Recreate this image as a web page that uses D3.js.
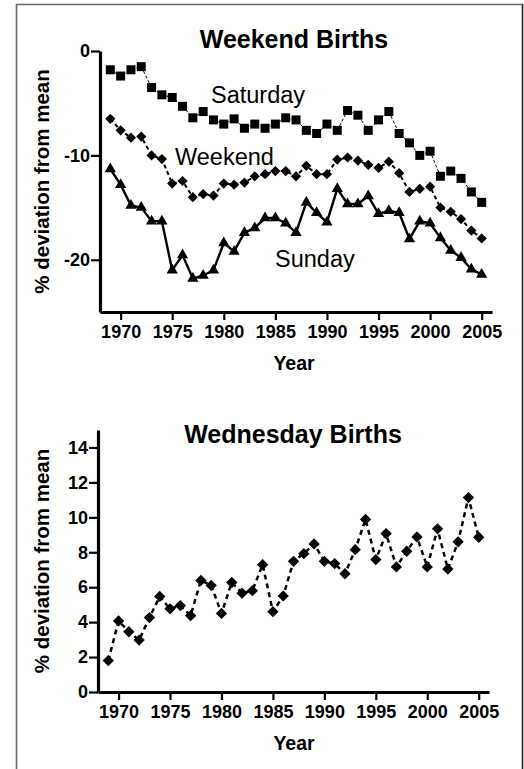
<!DOCTYPE html>
<html>
<head>
<meta charset="utf-8">
<script src="https://cdn.jsdelivr.net/npm/d3@7"></script>
<style>
  body { margin: 0; background: #fff; }
  text { font-family: "Liberation Sans", Arial, sans-serif; fill: #000; }
</style>
</head>
<body>
<script>
// Data
const years = d3.range(1969, 2006);
const saturday = [-1.8, -2.4, -1.8, -1.5, -3.5, -4.2, -4.45, -5.3, -6.4, -5.8,
  -6.6, -7.0, -6.5, -7.4, -7.0, -7.4, -7.0, -6.4, -6.6, -7.6,
  -7.9, -7.0, -7.6, -5.7, -6.15, -7.6, -6.6, -5.8, -7.9, -8.8,
  -10.0, -9.6, -12.0, -11.5, -12.2, -13.5, -14.5];
const weekend = [-6.5, -7.6, -8.3, -8.2, -10.0, -10.35, -12.7, -12.45, -14.0, -13.7,
  -13.85, -12.7, -12.8, -12.6, -12.0, -11.8, -11.5, -11.5, -12.0, -11.0,
  -11.8, -11.8, -10.4, -10.2, -10.5, -10.9, -11.2, -10.6, -11.7, -13.5,
  -13.2, -13.0, -15.0, -15.4, -16.1, -17.2, -17.95];
const sunday = [-11.3, -12.8, -14.8, -15.0, -16.3, -16.3, -21.0, -19.55, -21.8, -21.5,
  -21.0, -18.4, -19.2, -17.4, -16.95, -16.0, -16.0, -16.5, -17.4, -14.5,
  -15.5, -16.4, -13.2, -14.65, -14.65, -13.9, -15.6, -15.3, -15.5, -18.0,
  -16.3, -16.5, -17.9, -19.1, -19.8, -20.9, -21.4];
const wednesday = [1.8, 4.07, 3.45, 2.97, 4.26, 5.47, 4.76, 4.95, 4.37, 6.39,
  6.1, 4.5, 6.27, 5.66, 5.8, 7.29, 4.6, 5.5, 7.48, 7.92,
  8.48, 7.48, 7.35, 6.77, 8.15, 9.88, 7.58, 9.07, 7.16, 8.06,
  8.88, 7.16, 9.34, 7.04, 8.6, 11.13, 8.86];
const xTicks = [1970, 1975, 1980, 1985, 1990, 1995, 2000, 2005];
const topTicks = [0, -10, -20];
const bottomTicks = [0, 2, 4, 6, 8, 10, 12, 14];

const W = 524, H = 769;
const svg = d3.select("body").append("svg")
  .attr("width", W).attr("height", H);

// рамка
svg.append("path")
  .attr("d", "M16.5,780 V4.5 H522.5 V780")
  .attr("fill", "none").attr("stroke", "#6a6a6a").attr("stroke-width", 1.6);
svg.append("line")
  .attr("x1", 522.5).attr("x2", 522.5).attr("y1", 4).attr("y2", 780)
  .attr("stroke", "#222").attr("stroke-width", 1.2);

// Draws one panel: axes, title, labels
function panel(opt) {
  const x = d3.scaleLinear().domain([1968, 2006]).range([opt.left, opt.right]);
  const y = d3.scaleLinear().domain(opt.yDomain).range([opt.bottom, opt.top]);
  const g = svg.append("g");

  const xAxis = g.append("g").attr("transform", `translate(0,${opt.bottom})`)
    .call(d3.axisBottom(x).tickValues(xTicks).tickFormat(d => String(d))
      .tickSizeInner(8).tickSizeOuter(0).tickPadding(5));
  const yAxis = g.append("g").attr("transform", `translate(${opt.left},0)`)
    .call(d3.axisLeft(y).tickValues(opt.yTicks).tickFormat(d => String(d))
      .tickSizeInner(9).tickSizeOuter(0).tickPadding(1));

  [xAxis, yAxis].forEach(a => {
    a.attr("font-size", null).attr("font-family", null);
    a.select(".domain").attr("stroke", "#000").attr("stroke-width", 3.2);
    a.selectAll(".tick line").attr("stroke", "#000").attr("stroke-width", 2.2);
    a.selectAll(".tick text").style("font-size", "18px").style("font-weight", "bold")
      .attr("fill", "#000");
  });

  g.append("text").attr("x", opt.titleX).attr("y", opt.titleY)
    .attr("text-anchor", "middle").style("font-size", "25px").style("font-weight", "bold")
    .text(opt.title);
  g.append("text").attr("x", 294).attr("y", opt.bottom + 58)
    .attr("text-anchor", "middle").style("font-size", "19.5px").style("font-weight", "bold")
    .text("Year");
  g.append("text")
    .attr("transform", `translate(49,${(opt.top + opt.bottom) / 2}) rotate(-90)`)
    .attr("text-anchor", "middle").style("font-size", "20.5px").style("font-weight", "bold")
    .text("% deviation from mean");
  return { g, x, y };
}

// Draws one series: line + markers
function series(p, values, lineStyle, symbol, size, rotate) {
  const pts = years.map((yr, i) => [yr, values[i]]);
  p.g.append("path").datum(pts)
    .attr("fill", "none").attr("stroke", "#000")
    .attr("stroke-width", lineStyle.width)
    .attr("stroke-dasharray", lineStyle.dash)
    .attr("d", d3.line().x(d => p.x(d[0])).y(d => p.y(d[1])));
  p.g.selectAll(null).data(pts).enter().append("path")
    .attr("transform", d => `translate(${p.x(d[0])},${p.y(d[1])}) rotate(${rotate})`)
    .attr("d", d3.symbol().type(symbol).size(size))
    .attr("fill", "#000");
}

const topPanel = panel({ left: 100, right: 492, top: 51, bottom: 312,
  yDomain: [-25, 0], yTicks: topTicks, title: "Weekend Births", titleX: 294, titleY: 48 });
series(topPanel, saturday, { width: 1, dash: "3,2" }, d3.symbolSquare, 81, 0);
series(topPanel, weekend, { width: 2, dash: "4,3" }, d3.symbolSquare, 52, 45);
series(topPanel, sunday, { width: 2.4, dash: null }, d3.symbolTriangle, 55, 0);

svg.append("text").attr("x", 211).attr("y", 103).style("font-size", "23.5px").text("Saturday");
svg.append("text").attr("x", 175).attr("y", 165).style("font-size", "23.5px").text("Weekend");
svg.append("text").attr("x", 275).attr("y", 267).style("font-size", "23.5px").text("Sunday");

const bottomPanel = panel({ left: 98, right: 489, top: 430, bottom: 692,
  yDomain: [0, 15], yTicks: bottomTicks, title: "Wednesday Births", titleX: 293, titleY: 443 });
series(bottomPanel, wednesday, { width: 2.5, dash: "5,4" }, d3.symbolSquare, 64, 45);
</script>
</body>
</html>
